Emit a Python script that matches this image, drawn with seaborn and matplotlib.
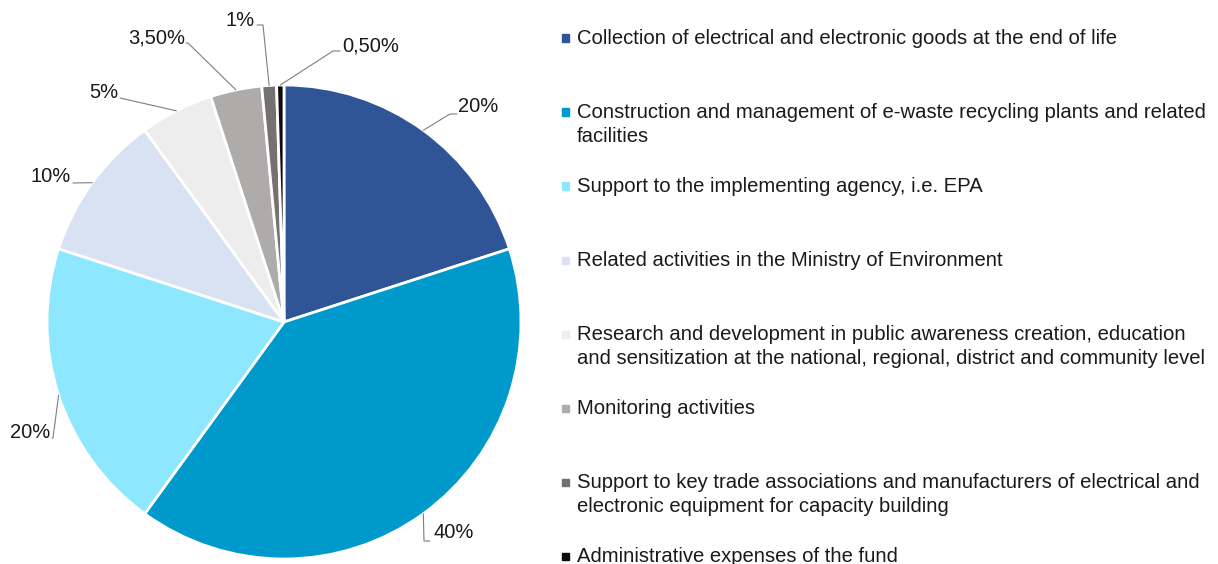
import matplotlib
matplotlib.use('Agg')
import matplotlib.pyplot as plt
import seaborn as sns
import numpy as np

# Datos del gráfico
categorias = [
    'Collection of electrical and electronic goods at the end of life',
    'Construction and management of e-waste recycling plants and related\nfacilities',
    'Support to the implementing agency, i.e. EPA',
    'Related activities in the Ministry of Environment',
    'Research and development in public awareness creation, education\nand sensitization at the national, regional, district and community level',
    'Monitoring activities',
    'Support to key trade associations and manufacturers of electrical and\nelectronic equipment for capacity building',
    'Administrative expenses of the fund',
]
porcentajes = [20, 40, 20, 10, 5, 3.5, 1, 0.5]
colores = ['#2F5597', '#0099CC', '#8DE7FF', '#D9E2F3',
           '#EDEDED', '#AEABAB', '#767171', '#0D0D0D']

sns.set_theme(style='white')
plt.rcParams['font.family'] = ['Liberation Sans', 'DejaVu Sans']

W, H = 1218, 564
fig = plt.figure(figsize=(W / 100, H / 100), dpi=100)

# Pie (centro y radio en pixeles)
cx, cy, r = 284, 322, 237
ax = fig.add_axes([(cx - r) / W, (H - cy - r) / H, 2 * r / W, 2 * r / H])
wedges, _ = ax.pie(porcentajes, colors=sns.color_palette(colores), startangle=90,
                   counterclock=False, radius=1,
                   wedgeprops=dict(edgecolor='white', linewidth=2))
ax.set_xlim(-1, 1)
ax.set_ylim(-1, 1)
ax.set_aspect('equal')
ax.axis('off')


def px(x, y):
    # pixel -> coordenadas del eje
    return (x - cx) / r, (cy - y) / r


def fmt(v):
    if float(v).is_integer():
        return f'{int(v)}%'
    return f'{v:.2f}'.replace('.', ',') + '%'


# Posiciones de etiquetas (pixel): texto, codo, alineación
etiq_pos = [(458, 107, 'left'), (433, 533, 'left'), (50, 432, 'right'),
            (71, 176, 'right'), (118, 93, 'right'), (185, 38, 'right'),
            (255, 20, 'right'), (342, 46, 'left')]
codos = [[(450, 114), (457, 114)], [(424, 541), (430, 541)],
         [(53, 438), (52, 438)], [(73, 183)], [(120, 98)],
         [(188, 43), (186, 43)], [(263, 25), (257, 25)],
         [(333, 51), (340, 51)]]

for w, v, (tx, ty, ha), cod in zip(wedges, porcentajes, etiq_pos, codos):
    ang = np.deg2rad((w.theta1 + w.theta2) / 2)
    pts = [(np.cos(ang), np.sin(ang))] + [px(*p) for p in cod]
    xs, ys = zip(*pts)
    ax.plot(xs, ys, color='#7F7F7F', lw=0.8, clip_on=False)
    lx, ly = px(tx, ty)
    ax.text(lx, ly, fmt(v), ha=ha, va='center', fontsize=14.5,
            color='#1A1A1A', clip_on=False)

# Leyenda manual a la derecha
y0, paso, interlinea = 38, 74.0, 24
for i, (cat, col) in enumerate(zip(categorias, colores)):
    yy = y0 + paso * i
    fig.patches.append(plt.Rectangle(((562) / W, 1 - (yy + 3.5) / H), 7 / W, 7 / H,
                                     transform=fig.transFigure, color=col,
                                     figure=fig))
    for j, linea in enumerate(cat.split('\n')):
        fig.text(577 / W, 1 - (yy + j * interlinea) / H, linea, ha='left',
                 va='center', fontsize=14.6, color='#1A1A1A')

fig.savefig('out.png', dpi=100)
